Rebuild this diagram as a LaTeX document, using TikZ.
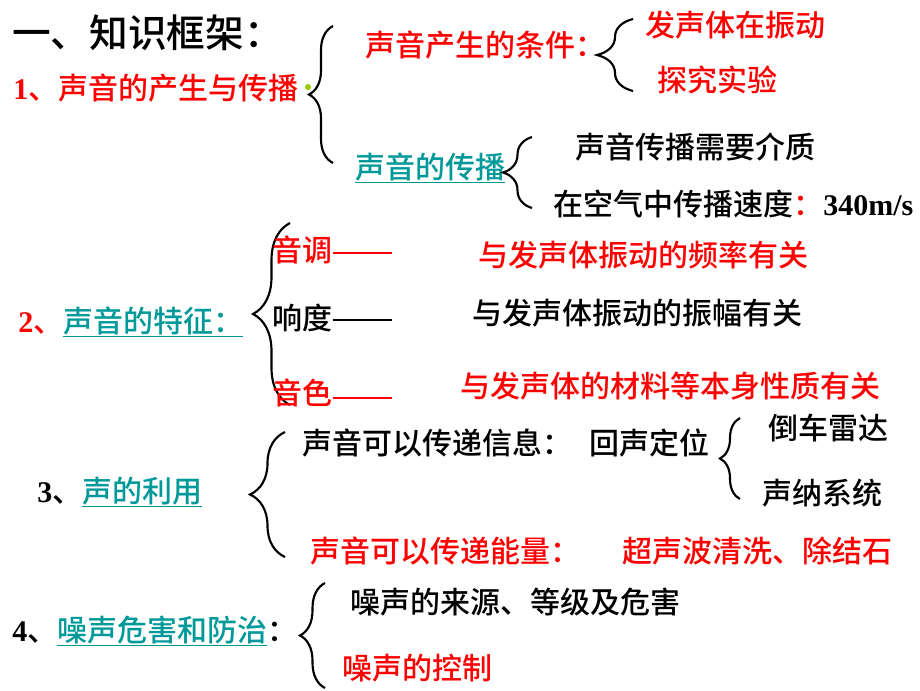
\documentclass[tikz,border=0pt]{standalone}
\usepackage{fontspec}
\setmainfont{Noto Sans CJK SC Medium}[BoldFont={Noto Sans CJK SC Bold}]
\newfontfamily\tnr{Liberation Serif}
\usepackage{tikz}
\usetikzlibrary{decorations.pathreplacing}
\definecolor{linkteal}{RGB}{0,153,153}
\definecolor{dotgreen}{RGB}{153,204,0}
\tikzset{
  txt/.style={anchor=west, inner sep=0pt, font=\fontsize{22.5pt}{27pt}\selectfont},
  hot/.style={txt, text=red},
  brc/.style={line width=1.6pt, decorate, decoration={brace, amplitude=#1}},
  dashline/.style={line width=1.1pt}
}
\begin{document}
\begin{tikzpicture}[x=0.75pt, y=-0.75pt]
\useasboundingbox (0,0) rectangle (920,690);

\node[txt, font=\fontsize{29pt}{34pt}\selectfont] (title) at (12,33) {一、知识框架：};

\node[hot] (s1) at (13,88) {{\tnr\bfseries 1}、声音的产生与传播};
\node[circle, fill=dotgreen, inner sep=1.6pt] (dot) at (308,87) {};
\coordinate (b1t) at (333,26); \coordinate (b1b) at (333,163);
\draw[brc=18pt] (b1b) -- (b1t);
\node[hot] (cond) at (365,45) {声音产生的条件：};
\coordinate (b2t) at (633,19); \coordinate (b2b) at (633,91);
\draw[brc=27pt] (b2b) -- (b2t);
\node[hot] (vib) at (645,25) {发声体在振动};
\node[hot] (expt) at (657,80) {探究实验};
\node[txt, text=linkteal] (prop) at (355,168) {\underline{声音的传播}};
\coordinate (b3t) at (532,137); \coordinate (b3b) at (532,208);
\draw[brc=21.75pt] (b3b) -- (b3t);
\node[txt] (medium) at (575,147) {声音传播需要介质};
\node[txt] (speed) at (553,204) {在空气中传播速度{\color{red}：}{\tnr\bfseries 340m/s}};

\node[txt] (s2) at (18,322) {{\color{red}{\tnr\bfseries 2}、}{\color{linkteal}\underline{声音的特征：}}};
\coordinate (b4t) at (290,223); \coordinate (b4b) at (290,405);
\draw[brc=27.75pt] (b4b) -- (b4t);
\node[hot] (pitch) at (272,250) {音调};
\node[txt] (loud) at (272,318) {响度};
\node[hot] (timbre) at (272,393) {音色};
\coordinate (pe) at (392,253); \coordinate (le) at (392,320); \coordinate (te) at (392,398);
\draw[dashline, red] (pitch.east |- pe) -- (pe);
\draw[dashline] (loud.east |- le) -- (le);
\draw[dashline, red] (timbre.east |- te) -- (te);
\node[hot] (freq) at (478,255) {与发声体振动的频率有关};
\node[txt] (ampl) at (472,313) {与发声体振动的振幅有关};
\node[hot] (matl) at (460,386) {与发声体的材料等本身性质有关};

\node[txt] (s3) at (37,492) {{\tnr\bfseries 3}、{\color{linkteal}\underline{声的利用}}};
\coordinate (b5t) at (285,432); \coordinate (b5b) at (285,557);
\draw[brc=26.25pt] (b5b) -- (b5t);
\node[txt] (info) at (302,443) {声音可以传递信息：};
\node[txt] (echo) at (589,443) {回声定位};
\coordinate (b6t) at (740,418); \coordinate (b6b) at (740,499);
\draw[brc=15pt] (b6b) -- (b6t);
\node[txt] (radar) at (768,428) {倒车雷达};
\node[txt] (sonar) at (762,493) {声纳系统};
\node[hot] (energy) at (310,551) {声音可以传递能量：};
\node[hot] (ultra) at (622,551) {超声波清洗、除结石};

\node[txt] (s4) at (12,631) {{\tnr\bfseries 4}、{\color{linkteal}\underline{噪声危害和防治}}：};
\coordinate (b7t) at (325,583); \coordinate (b7b) at (325,688);
\draw[brc=18.75pt] (b7b) -- (b7t);
\node[txt] (src) at (350,602) {噪声的来源、等级及危害};
\node[hot] (ctrl) at (342,668) {噪声的控制};

\end{tikzpicture}
\end{document}
